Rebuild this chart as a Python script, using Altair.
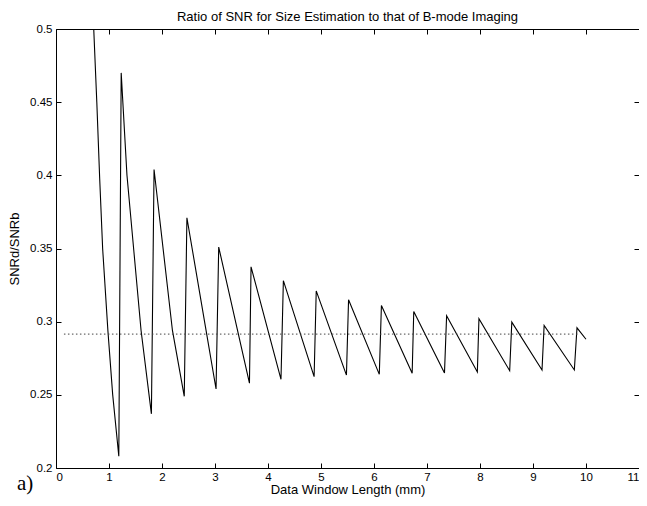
import altair as alt
import pandas as pd

# Data window length (mm) and SNR ratio
x_mm = [0.712, 0.77, 0.824, 0.88, 0.979, 1.07, 1.185,
        1.23, 1.339, 1.605, 1.80,
        1.85, 2.197, 2.42,
        2.47, 2.82, 3.02,
        3.07, 3.65,
        3.68, 4.245,
        4.29, 4.87,
        4.91, 5.48,
        5.52, 6.10,
        6.14, 6.72,
        6.75, 7.33,
        7.37, 7.95,
        7.98, 8.56,
        8.60, 9.17,
        9.21, 9.78,
        9.83, 10.0]
ratio = [0.5, 0.45, 0.398, 0.35, 0.294, 0.25, 0.208,
         0.470, 0.400, 0.294, 0.237,
         0.404, 0.294, 0.249,
         0.371, 0.2965, 0.254,
         0.351, 0.258,
         0.3375, 0.2606,
         0.328, 0.2624,
         0.321, 0.2635,
         0.315, 0.264,
         0.311, 0.2647,
         0.307, 0.265,
         0.304, 0.2656,
         0.302, 0.2665,
         0.2997, 0.267,
         0.2975, 0.267,
         0.2958, 0.288]

# Reference (mean) level, dotted
ref_x = [0.15, 9.85]
ref_y = [0.2915, 0.2915]

x_ticks = [0, 1, 2, 3, 4, 5, 6, 7, 8, 9, 10, 11]
y_ticks = [0.2, 0.25, 0.3, 0.35, 0.4, 0.45, 0.5]

FONT = "Liberation Sans"

df = pd.DataFrame({"x": x_mm, "y": ratio})
ref_df = pd.DataFrame({"x": ref_x, "y": ref_y})
lab_df = pd.DataFrame({"t": ["a)"]})

xs = alt.Scale(domain=[0, 11], nice=False)
ys = alt.Scale(domain=[0.2, 0.5], nice=False, zero=False)

main = alt.Chart(df).mark_line(color="black", strokeWidth=1.1).encode(
    x=alt.X("x:Q", scale=xs, axis=alt.Axis(
        orient="bottom", values=x_ticks, tickSize=0, domain=False, grid=False,
        title="Data Window Length (mm)", labelPadding=3, titlePadding=1)),
    y=alt.Y("y:Q", scale=ys, axis=alt.Axis(
        orient="left", values=y_ticks, format="~g", tickSize=0, domain=False,
        grid=False, title="SNRd/SNRb", labelPadding=4, titlePadding=8)),
)

ref = alt.Chart(ref_df).mark_line(color="#444444", strokeWidth=1,
                                  strokeDash=[1.5, 2.5]).encode(
    x=alt.X("x:Q", scale=xs, axis=None),
    y=alt.Y("y:Q", scale=ys, axis=None),
)


def xticks(orient):
    return alt.Chart(df).mark_line(opacity=0).encode(
        x=alt.X("x:Q", scale=xs, axis=alt.Axis(
            orient=orient, values=x_ticks, labels=False, domain=False,
            grid=False, title=None, tickSize=5, offset=-5)),
        y=alt.Y("y:Q", scale=ys, axis=None),
    )


def yticks(orient):
    return alt.Chart(df).mark_line(opacity=0).encode(
        x=alt.X("x:Q", scale=xs, axis=None),
        y=alt.Y("y:Q", scale=ys, axis=alt.Axis(
            orient=orient, values=y_ticks, labels=False, domain=False,
            grid=False, title=None, tickSize=5, offset=-5)),
    )


label = alt.Chart(lab_df).mark_text(
    font="Liberation Serif", fontSize=21, align="left", baseline="alphabetic",
    color="black").encode(
    x=alt.value(-39), y=alt.value(461), text="t:N")

chart = alt.layer(
    main, ref, xticks("top"), xticks("bottom"), yticks("left"), yticks("right"), label
).resolve_axis(x="independent", y="independent").properties(
    width=583, height=439,
    autosize=alt.AutoSizeParams(type="none"),
    padding={"left": 48, "top": 21, "right": 0, "bottom": 30},
    title=alt.TitleParams(
        text="Ratio of SNR for Size Estimation to that of B-mode Imaging",
        font=FONT, fontSize=13, fontWeight="normal", color="black",
        anchor="middle", offset=-1),
).configure_view(stroke="black", strokeWidth=1).configure_axis(
    labelFont=FONT, labelFontSize=11.5, labelColor="black",
    titleFont=FONT, titleFontSize=13, titleFontWeight="normal", titleColor="black",
    tickColor="black", tickWidth=1,
)

chart.save("out.html", embed_options={"renderer": "svg", "actions": False})
